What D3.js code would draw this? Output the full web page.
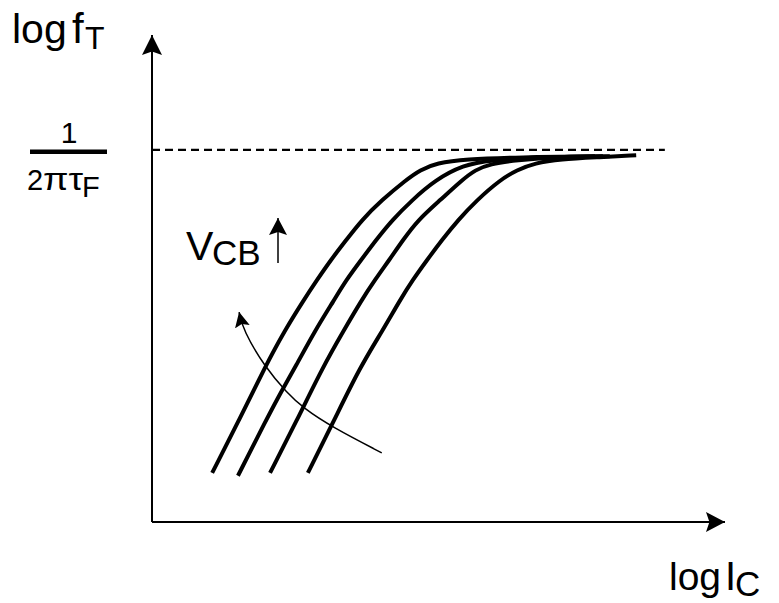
<!DOCTYPE html>
<html><head><meta charset="utf-8">
<script src="https://cdn.jsdelivr.net/npm/d3@7"></script>
<style>html,body{margin:0;padding:0;background:#fff;} svg{display:block;}</style>
</head><body>
<script>
// Series: log fT vs log IC for four values of V_CB (left curve = highest V_CB)
const seriesNames = ["VCB4", "VCB3", "VCB2", "VCB1"];
const logIc1 = [1.05, 1.52, 1.97, 2.32, 2.65, 2.88, 3.12, 3.39, 3.66, 4.01, 4.43, 4.68, 4.97, 5.46, 6.42, 7.73];
const logFt1 = [1.01, 2.09, 3.18, 3.94, 4.56, 4.97, 5.38, 5.79, 6.20, 6.61, 7.02, 7.23, 7.37, 7.45, 7.49, 7.51];
const logIc2 = [1.50, 1.99, 2.27, 2.50, 2.85, 3.18, 3.39, 3.65, 3.91, 4.19, 4.54, 4.94, 5.43, 5.90, 6.77, 7.87];
const logFt2 = [0.95, 2.09, 2.71, 3.18, 3.94, 4.56, 4.97, 5.38, 5.79, 6.20, 6.61, 7.02, 7.33, 7.43, 7.49, 7.51];
const logIc3 = [2.06, 2.53, 2.98, 3.35, 3.66, 3.89, 4.14, 4.38, 4.64, 5.03, 5.41, 5.64, 5.90, 6.34, 7.12, 7.99];
const logFt3 = [1.01, 2.09, 3.18, 3.94, 4.56, 4.97, 5.38, 5.79, 6.20, 6.61, 7.02, 7.23, 7.35, 7.43, 7.50, 7.51];
const logIc4 = [2.72, 3.18, 3.63, 4.03, 4.33, 4.55, 4.80, 5.06, 5.34, 5.67, 6.07, 6.37, 6.68, 7.12, 7.82, 8.45];
const logFt4 = [1.01, 2.09, 3.18, 3.94, 4.56, 4.97, 5.38, 5.79, 6.20, 6.61, 7.02, 7.23, 7.37, 7.45, 7.49, 7.53];

// Asymptote 1/(2*pi*tauF)
const fTmax = 7.64;
const asymptoteEnd = 8.95;

// Curved "V_CB increasing" arrow path (data units)
const arrowIc = [4.01, 3.14, 2.64, 2.36, 1.97, 1.59, 1.52];
const arrowFt = [1.42, 1.95, 2.34, 2.65, 3.18, 3.94, 4.31];

const W = 779, H = 603;
const svg = d3.select("body").append("svg").attr("width", W).attr("height", H);
const x = d3.scaleLinear().domain([0, 10]).range([152, 725]);
const y = d3.scaleLinear().domain([0, 10]).range([522, 35]);

const defs = svg.append("defs");
function marker(id, len, hw) {
  defs.append("marker").attr("id", id)
    .attr("markerUnits", "userSpaceOnUse")
    .attr("viewBox", `0 ${-hw} ${len} ${2*hw}`)
    .attr("markerWidth", len).attr("markerHeight", 2*hw)
    .attr("refX", len).attr("refY", 0)
    .attr("orient", "auto")
    .append("path")
    .attr("d", `M0,${-hw}L${len},0L0,${hw}L${len*0.18},0Z`)
    .attr("fill", "#000");
}
marker("axArrowY", 20, 10);
marker("axArrowX", 19, 10);
marker("smallArrow", 15, 7.5);
marker("vcbArrow", 17, 9);

const font = "Liberation Sans, Arial, Helvetica, sans-serif";

// Axes
svg.append("line").attr("x1", x(0)).attr("y1", y(0)).attr("x2", x(0)).attr("y2", y(10))
  .attr("stroke", "#000").attr("stroke-width", 2).attr("marker-end", "url(#axArrowY)");
svg.append("line").attr("x1", x(0)).attr("y1", y(0)).attr("x2", x(10)).attr("y2", y(0))
  .attr("stroke", "#000").attr("stroke-width", 2).attr("marker-end", "url(#axArrowX)");

// Dashed asymptote
svg.append("line").attr("x1", x(0)).attr("x2", x(asymptoteEnd))
  .attr("y1", y(fTmax)).attr("y2", y(fTmax))
  .attr("stroke", "#000").attr("stroke-width", 2.2).attr("stroke-dasharray", "8,5");

// Curves
const line = d3.line().x(d => x(d[0])).y(d => y(d[1])).curve(d3.curveBasis);
const curves = [[logIc1, logFt1], [logIc2, logFt2], [logIc3, logFt3], [logIc4, logFt4]];
curves.forEach((c, i) => {
  const pts = c[0].map((v, j) => [v, c[1][j]]);
  svg.append("path").datum(pts).attr("class", seriesNames[i])
    .attr("d", line).attr("fill", "none").attr("stroke", "#000")
    .attr("stroke-width", 4).attr("stroke-linejoin", "round");
});

// Curved arrow
const arcLine = d3.line().x(d => x(d[0])).y(d => y(d[1])).curve(d3.curveBasis);
svg.append("path").datum(arrowIc.map((v, j) => [v, arrowFt[j]]))
  .attr("d", arcLine).attr("fill", "none").attr("stroke", "#000")
  .attr("stroke-width", 1.5).attr("marker-end", "url(#smallArrow)");

// Labels
const t1 = svg.append("g").attr("font-family", font).attr("fill", "#000");
t1.append("text").attr("x", 12).attr("y", 43).attr("font-size", 41).text("log");
t1.append("text").attr("x", 72).attr("y", 43).attr("font-size", 42).text("f");
t1.append("text").attr("x", 85).attr("y", 49).attr("font-size", 32).text("T");

t1.append("text").attr("x", 669).attr("y", 590).attr("font-size", 39).text("log");
t1.append("text").attr("x", 725).attr("y", 590).attr("font-size", 40).text("I");
t1.append("text").attr("x", 735).attr("y", 596).attr("font-size", 35).text("C");

// Fraction 1/(2 pi tauF)
t1.append("text").attr("x", 69).attr("y", 143).attr("font-size", 30).attr("text-anchor", "middle").text("1");
t1.append("rect").attr("x", 30).attr("y", 149.5).attr("width", 77).attr("height", 4.5);
t1.append("text").attr("x", 27).attr("y", 190).attr("font-size", 29).text("2");
t1.append("text").attr("x", 43).attr("y", 190).attr("font-size", 32)
  .attr("textLength", 40).attr("lengthAdjust", "spacingAndGlyphs").text("πτ");
t1.append("text").attr("x", 82).attr("y", 197).attr("font-size", 29).text("F");

// V_CB label with up arrow
t1.append("text").attr("x", 186).attr("y", 260).attr("font-size", 41).text("V");
t1.append("text").attr("x", 212).attr("y", 265).attr("font-size", 35).text("CB");
svg.append("line").attr("x1", 278).attr("x2", 278).attr("y1", 263).attr("y2", 218)
  .attr("stroke", "#000").attr("stroke-width", 1.5).attr("marker-end", "url(#vcbArrow)");
</script>
</body></html>
